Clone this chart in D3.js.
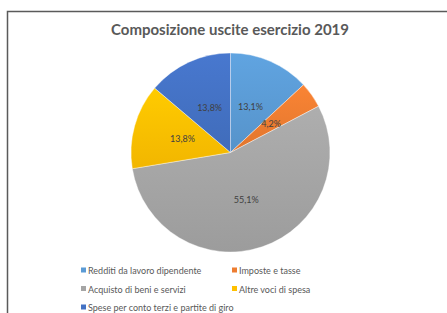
<!DOCTYPE html>
<html><head><meta charset="utf-8">
<script src="https://cdn.jsdelivr.net/npm/d3@7"></script>
<style>html,body{margin:0;padding:0;background:#fff;}svg{display:block;}</style>
</head><body>
<svg id="chart" width="447" height="313"></svg>
<script>
const title = "Composizione uscite esercizio 2019";
const categories = ["Redditi da lavoro dipendente","Imposte e tasse","Acquisto di beni e servizi","Altre voci di spesa","Spese per conto terzi e partite di giro"];
const values = [13.1, 4.2, 55.1, 13.8, 13.8];
const labels = ["13,1%","4,2%","55,1%","13,8%","13,8%"];
const colors = ["#5B9BD5","#ED7D31","#A5A5A5","#FFC000","#4472C4"];

const svg = d3.select("#chart");
const font = "Lato, 'Open Sans', sans-serif";

// frame
svg.append("path").attr("d", d3.line()([[7.5,313],[7.5,11.5],[447,11.5]]))
  .attr("fill","none").attr("stroke","#5a5a5a").attr("stroke-width",1.5);

svg.append("text").attr("x",230).attr("y",35).attr("text-anchor","middle")
  .attr("font-family",font).attr("font-weight","bold").attr("font-size",15)
  .attr("fill","#595959").text(title);

const defs = svg.append("defs");
colors.forEach((c,i)=>{
  const g = defs.append("linearGradient").attr("id","g"+i).attr("x1",0).attr("y1",0).attr("x2",0).attr("y2",1);
  g.append("stop").attr("offset","0%").attr("stop-color", d3.color(c).brighter(0.15));
  g.append("stop").attr("offset","100%").attr("stop-color", d3.color(c).darker(0.15));
});

const cx = 230.5, cy = 152.5, r = 99.5;
const pie = d3.pie().sort(null).value(d=>d);
const arcs = pie(values);
const arc = d3.arc().innerRadius(0).outerRadius(r);
const g = svg.append("g").attr("transform",`translate(${cx},${cy})`);
g.selectAll("path.s").data(arcs).enter().append("path").attr("class","s")
  .attr("d",arc).attr("fill",(d,i)=>`url(#g${i})`)
  .attr("stroke","#fff").attr("stroke-width",0.4);

g.selectAll("text.l").data(arcs).enter().append("text").attr("class","l")
  .attr("transform",d=>`translate(${arc.centroid(d)})`)
  .attr("text-anchor","middle").attr("dy","0.35em")
  .attr("font-family",font).attr("font-size",9).attr("fill","#404040")
  .text((d,i)=>labels[i]);

// legend
const legPos = [[81,271],[232,271],[81,289.5],[232,289.5],[81,308]];
const leg = svg.append("g");
categories.forEach((c,i)=>{
  const [x,y] = legPos[i];
  leg.append("rect").attr("x",x).attr("y",y-3.5).attr("width",5).attr("height",5).attr("fill",colors[i]);
  leg.append("text").attr("x",x+7).attr("y",y).attr("dy","0.35em")
    .attr("font-family",font).attr("font-size",9).attr("fill","#595959").text(c);
});
</script>
</body></html>
